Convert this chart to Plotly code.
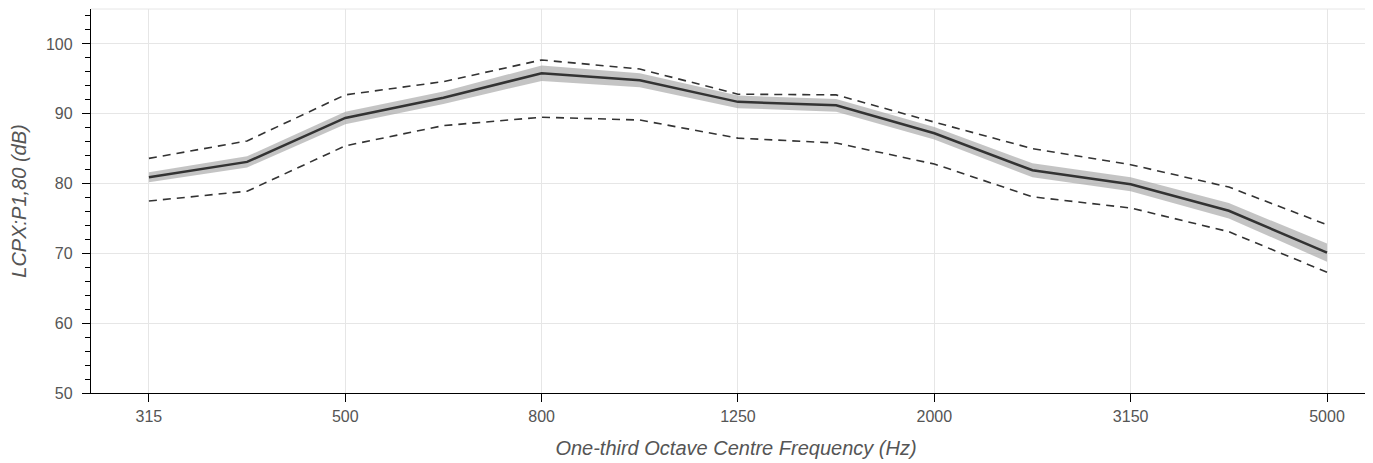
import plotly.graph_objects as go

freqs = ['315', '400', '500', '630', '800', '1000', '1250', '1600',
         '2000', '2500', '3150', '4000', '5000']
tick_labels = ['315', '500', '800', '1250', '2000', '3150', '5000']

mean_db = [80.9, 83.1, 89.4, 92.3, 95.8, 94.8, 91.7, 91.2, 87.2, 81.9, 79.9, 76.1, 70.1]
band_hi = [81.6, 83.9, 90.3, 93.2, 96.9, 95.8, 92.6, 92.1, 88.1, 82.9, 80.9, 77.2, 71.4]
band_lo = [80.2, 82.3, 88.5, 91.4, 94.7, 93.8, 90.8, 90.3, 86.3, 80.9, 78.9, 75.0, 68.8]
upper_db = [83.6, 86.1, 92.7, 94.6, 97.7, 96.4, 92.8, 92.7, 88.8, 85.0, 82.7, 79.5, 74.1]
lower_db = [77.5, 78.9, 85.4, 88.3, 89.5, 89.1, 86.5, 85.8, 82.8, 78.1, 76.5, 73.1, 67.3]

fig = go.Figure()

# grey ribbon round the mean
fig.add_trace(go.Scatter(x=freqs, y=band_lo, mode='lines', line=dict(width=0),
                         hoverinfo='skip', showlegend=False))
fig.add_trace(go.Scatter(x=freqs, y=band_hi, mode='lines', line=dict(width=0),
                         fill='tonexty', fillcolor='rgba(160,160,160,0.62)',
                         hoverinfo='skip', showlegend=False))

fig.add_trace(go.Scatter(x=freqs, y=mean_db, mode='lines',
                         line=dict(color='#333333', width=2.5), showlegend=False))
for ys in (upper_db, lower_db):
    fig.add_trace(go.Scatter(x=freqs, y=ys, mode='lines',
                             line=dict(color='#333333', width=1.6, dash='8px,6px'),
                             showlegend=False))

axis_font = dict(family='Liberation Sans, Arial, sans-serif', size=16, color='#555555')
title_font = dict(family='Liberation Sans, Arial, sans-serif', size=20, color='#555555')

fig.update_xaxes(type='category', range=[-0.59, 12.55], automargin=False,
                 tickvals=tick_labels, ticktext=tick_labels,
                 showgrid=True, gridcolor='#e6e6e6', gridwidth=1,
                 showline=True, linecolor='#000000', linewidth=1.3,
                 ticks='outside', ticklen=8, tickcolor='#000000', tickwidth=1.3,
                 ticklabelstandoff=1,
                 tickfont=axis_font, zeroline=False,
                 title=dict(text='<i>One-third Octave Centre Frequency (Hz)</i>',
                            font=title_font, standoff=16))
fig.update_yaxes(range=[50, 105], tick0=50, dtick=10, automargin=False,
                 showgrid=True, gridcolor='#e6e6e6', gridwidth=1,
                 showline=True, linecolor='#000000', linewidth=1.3,
                 ticks='outside', ticklen=8, tickcolor='#000000', tickwidth=1.3,
                 ticklabelstandoff=6,
                 minor=dict(dtick=2, tick0=50, ticks='outside', ticklen=5,
                            tickcolor='#000000', tickwidth=1.2, showgrid=False),
                 tickfont=axis_font, zeroline=False,
                 title=dict(text='<i>LCPX:P1,80 (dB)</i>', font=title_font, standoff=20))

# light line along the top of the frame
fig.add_shape(type='line', xref='paper', yref='paper', x0=0, y0=1, x1=1, y1=1,
              line=dict(color='#e6e6e6', width=1), layer='below')

# the page body adds 8px of offset; the plot runs off the right edge like the original
fig.update_layout(width=1373, height=455, plot_bgcolor='white', paper_bgcolor='white',
                  margin=dict(l=83, r=0, t=1, b=70, autoexpand=False))

fig.write_html('out.html')
